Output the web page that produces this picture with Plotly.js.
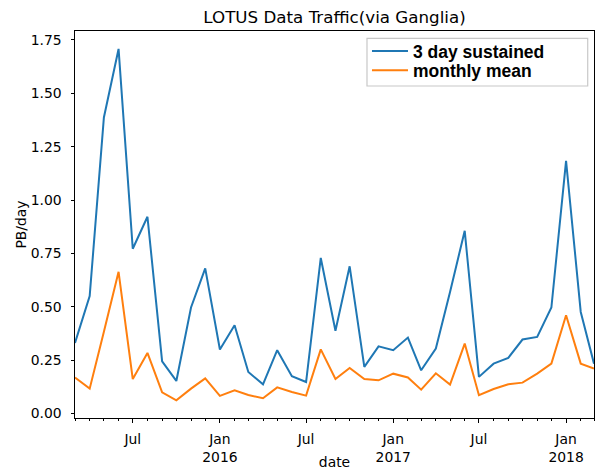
<!DOCTYPE html>
<html>
<head>
<meta charset="utf-8">
<script src="https://cdn.plot.ly/plotly-3.0.1.min.js"></script>
<style>html,body{margin:0;padding:0;background:#fff;}#chart{width:595px;height:470px;}</style>
</head>
<body>
<div id="chart"></div>
<script>
const dates = [
  '2015-03-01','2015-04-01','2015-05-01','2015-06-01','2015-07-01','2015-08-01','2015-09-01','2015-10-01','2015-11-01','2015-12-01',
  '2016-01-01','2016-02-01','2016-03-01','2016-04-01','2016-05-01','2016-06-01','2016-07-01','2016-08-01','2016-09-01','2016-10-01','2016-11-01','2016-12-01',
  '2017-01-01','2017-02-01','2017-03-01','2017-04-01','2017-05-01','2017-06-01','2017-07-01','2017-08-01','2017-09-01','2017-10-01','2017-11-01','2017-12-01',
  '2018-01-01','2018-02-01','2018-03-01'
];
const sustained = [
  0.331, 0.550, 1.387, 1.708, 0.772, 0.922, 0.245, 0.153, 0.497, 0.680,
  0.300, 0.414, 0.195, 0.137, 0.297, 0.175, 0.148, 0.729, 0.388, 0.690, 0.219, 0.315,
  0.297, 0.356, 0.203, 0.305, 0.570, 0.856, 0.172, 0.234, 0.261, 0.347, 0.359, 0.497,
  1.184, 0.476, 0.234
];
const monthlyMean = [
  0.169, 0.117, 0.383, 0.664, 0.162, 0.284, 0.100, 0.062, 0.117, 0.165,
  0.083, 0.109, 0.087, 0.072, 0.123, 0.101, 0.084, 0.301, 0.162, 0.214, 0.162, 0.156,
  0.187, 0.169, 0.112, 0.189, 0.136, 0.328, 0.086, 0.115, 0.137, 0.145, 0.187, 0.234,
  0.461, 0.234, 0.211
];
const seriesNames = ['3 day sustained', 'monthly mean'];
const xTickVals = ['2015-07-01','2016-01-01','2016-07-01','2017-01-01','2017-07-01','2018-01-01'];
const xTickText = ['Jul','Jan<br>2016','Jul','Jan<br>2017','Jul','Jan<br>2018'];
const yTickVals = [0, 0.25, 0.5, 0.75, 1.0, 1.25, 1.5, 1.75];

const font = {family: 'DejaVu Sans', size: 13.9, color: '#000'};
const legFont = {family: 'Liberation Sans', size: 17.5, color: '#000', weight: 'bold'};
const traces = [
  {x: dates, y: sustained, name: seriesNames[0], type: 'scatter', mode: 'lines',
   line: {color: '#1f77b4', width: 2}, legend: 'legend'},
  {x: dates, y: monthlyMean, name: seriesNames[1], type: 'scatter', mode: 'lines',
   line: {color: '#ff7f0e', width: 2}, legend: 'legend2'}
];
const legendBase = {xanchor: 'left', yanchor: 'top', bgcolor: 'rgba(0,0,0,0)', borderwidth: 0,
                    font: legFont, itemwidth: 36};
const layout = {
  width: 595, height: 470,
  margin: {l: 75, r: 1, t: 31, b: 52},
  paper_bgcolor: '#fff', plot_bgcolor: '#fff',
  font: font,
  showlegend: true,
  title: {text: 'LOTUS Data Traffic(via Ganglia)', font: {family: 'DejaVu Sans', size: 16.7, color: '#000'},
          x: 0.5, xref: 'paper', y: 1 - 17.5/470, yref: 'container', yanchor: 'middle'},
  xaxis: {
    type: 'date', range: ['2015-03-01', '2018-03-01'],
    tickmode: 'array', tickvals: xTickVals, ticktext: xTickText,
    ticks: 'outside', ticklen: 3.5, tickwidth: 1, tickcolor: '#000',
    ticklabelstandoff: 5,
    showgrid: false, zeroline: false,
    showline: true, linecolor: '#000', linewidth: 1, mirror: true,
    minor: {dtick: 'M1', tick0: '2015-01-01', ticks: 'outside', ticklen: 2, tickcolor: '#000', showgrid: false},
    tickfont: font,
    title: {text: 'date', font: font},
    automargin: false
  },
  yaxis: {
    range: [-0.0206, 1.792],
    tickmode: 'array', tickvals: yTickVals, tickformat: '.2f',
    ticks: 'outside', ticklen: 3.5, tickwidth: 1, tickcolor: '#000',
    ticklabelstandoff: 6,
    showgrid: false, zeroline: false,
    showline: true, linecolor: '#000', linewidth: 1, mirror: true,
    tickfont: font,
    title: {text: 'PB/day', font: font},
    automargin: false
  },
  legend: Object.assign({x: 0.5626, y: 0.9946}, legendBase),
  legend2: Object.assign({x: 0.5626, y: 0.9445}, legendBase),
  shapes: [{
    type: 'rect', xref: 'paper', yref: 'paper', layer: 'above',
    x0: 0.5626, x1: 0.9879, y0: 0.8579, y1: 0.9811,
    line: {color: '#c8c8c8', width: 1.2}, fillcolor: 'rgba(255,255,255,0.8)'
  }]
};
Plotly.newPlot('chart', traces, layout, {displayModeBar: false, staticPlot: true});
</script>
</body>
</html>
